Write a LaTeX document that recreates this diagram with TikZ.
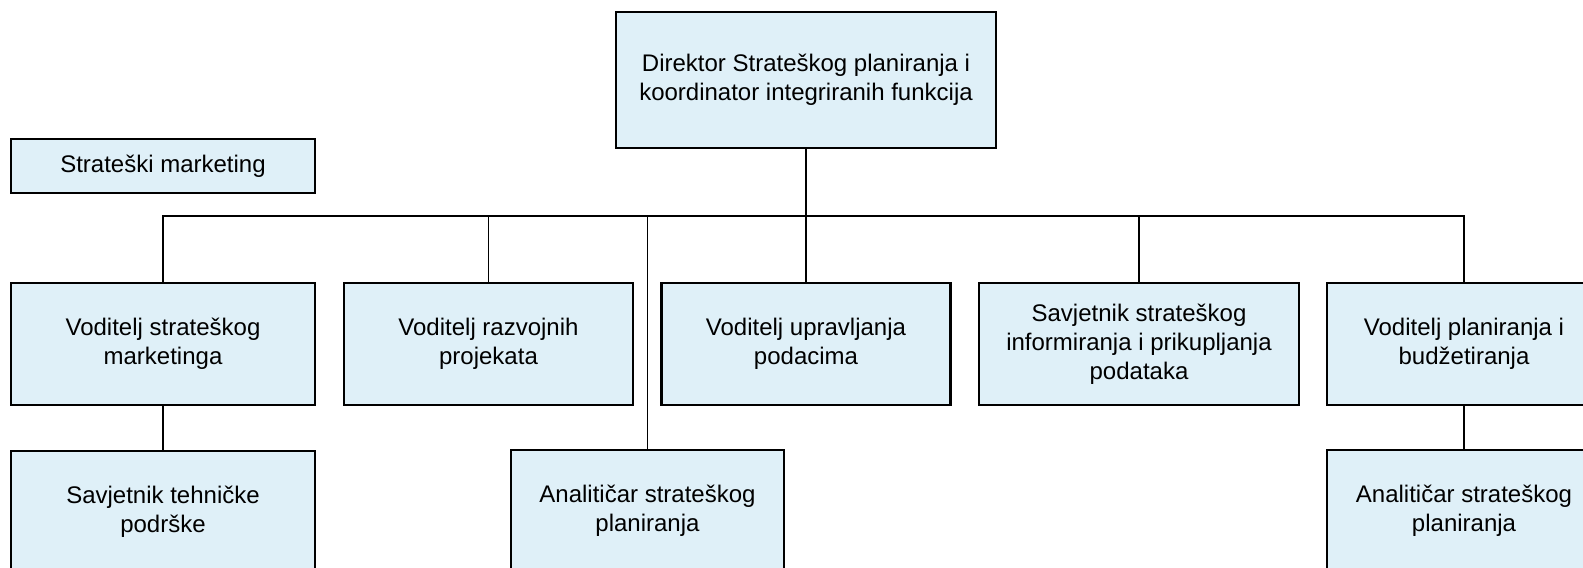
\documentclass[tikz,border=0pt]{standalone}
\usepackage{fontspec}
\setmainfont{Liberation Sans}
\usetikzlibrary{positioning}
\definecolor{boxfill}{RGB}{223,240,248}
\tikzstyle{post} = [rectangle, draw, fill=boxfill, line width=1.4pt, inner sep=0pt, align=center, minimum height=61pt, font=\fontsize{12}{14.5}\selectfont]
\tikzstyle{link} = [line width=0.9pt]
\tikzstyle{mainlink} = [line width=1.4pt]

\begin{document}
\begin{tikzpicture}[x=0.5pt, y=-0.5pt]
  \clip (0,0) rectangle (1583,567);
  \fill[white] (0,0) rectangle (1583,567);

  % direktor
  \node[post, minimum width=190pt, minimum height=68pt] (dir) at (806,80) {Direktor Strateškog planiranja i\\koordinator integriranih funkcija};
  \node[post, minimum width=152pt, minimum height=27pt] (sm) at (163,166) {Strateški marketing};

  % voditelji i savjetnici
  \node[post, minimum width=152pt] (vsm) at (163,344) {Voditelj strateškog\\marketinga};
  \node[post, minimum width=144.5pt] (vrp) at (488.5,344) {Voditelj razvojnih\\projekata};
  \node[post, minimum width=144.5pt] (vup) at (806,344) {Voditelj upravljanja\\podacima};
  \node[post, minimum width=160pt] (ssi) at (1139,344) {Savjetnik strateškog\\informiranja i prikupljanja\\podataka};
  \node[post, minimum width=137pt] (vpb) at (1464,344) {Voditelj planiranja i\\budžetiranja};

  % donji red
  \node[post, minimum width=152pt] (stp) at (163,512) {Savjetnik tehničke\\podrške};
  \node[post, minimum width=136.5pt] (asp1) at (647.5,511) {Analitičar strateškog\\planiranja};
  \node[post, minimum width=137pt] (asp2) at (1464,511) {Analitičar strateškog\\planiranja};

  % sabirnica
  \coordinate (bus) at (806,216);

  % veze
  \draw[link] (vsm.north) |- (bus);
  \draw[link] (vpb.north) |- (bus);
  \draw[link] (vrp.north) -- (vrp.north |- bus);
  \draw[link] (asp1.north) -- (asp1.north |- bus);
  \draw[link] (ssi.north) -- (ssi.north |- bus);
  \draw[link] (vsm.south) -- (stp.north);
  \draw[link] (vpb.south) -- (asp2.north);
  \draw[mainlink] (dir.south) -- (vup.north);
\end{tikzpicture}
\end{document}
